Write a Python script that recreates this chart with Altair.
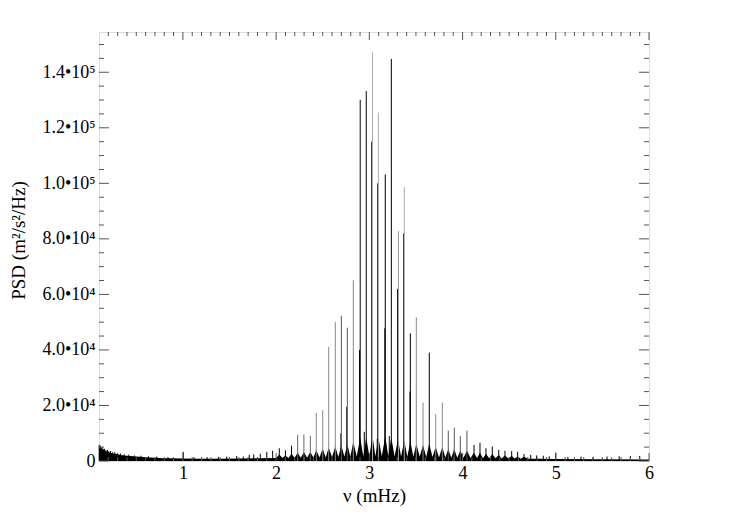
import altair as alt
import pandas as pd

# ---- main p-mode peaks: frequency (mHz), PSD (m^2/s^2/Hz), shade ----
peak_freq = [1.577, 1.648, 1.712, 1.760, 1.830, 1.900, 1.963, 2.034, 2.100, 2.165,
             2.231, 2.298, 2.367, 2.431, 2.500, 2.564, 2.635, 2.700, 2.764, 2.828,
             2.902, 2.967, 3.034, 3.097, 3.171, 3.236, 3.312, 3.375, 3.440, 3.504,
             3.576, 3.643, 3.712, 3.783, 3.847, 3.911, 3.976, 4.047, 4.123, 4.187,
             4.251, 4.319, 4.388, 4.455, 4.527, 4.591, 4.659, 4.731, 4.795, 4.866, 4.930]
peak_psd = [1800, 1600, 2200, 2400, 2600, 3300, 3700, 4600, 3800, 5500,
            9400, 9500, 9000, 17300, 18300, 41100, 50100, 52300, 48000, 65100,
            130100, 133200, 147200, 125500, 103200, 144800, 82800, 98700, 46000, 51700,
            21000, 39000, 16900, 21000, 10900, 12000, 9000, 10900, 5800, 6600,
            4600, 5200, 4000, 3700, 3600, 3300, 2500, 2200, 2000, 1900, 1700]
peak_shade = ["#000", "#000", "#000", "#000", "#000", "#000", "#000", "#000", "#000", "#000",
              "#666", "#666", "#666", "#888", "#888", "#888", "#888", "#555", "#555", "#888",
              "#000", "#000", "#aaa", "#aaa", "#000", "#000", "#999", "#aaa", "#000", "#888",
              "#888", "#000", "#888", "#888", "#555", "#555", "#555", "#555", "#000", "#000",
              "#000", "#000", "#000", "#000", "#000", "#000", "#000", "#000", "#000", "#000", "#000"]

# ---- companion / neighbouring modes (dark lower lines) ----
comp_freq = [2.695, 2.758, 2.895, 2.946, 3.026, 3.085, 3.090, 3.166, 3.214, 3.303, 3.368, 3.436]
comp_psd = [10000, 19500, 40000, 10500, 115000, 8000, 100000, 47800, 9000, 62000, 82000, 25000]

# ---- low-level noise spikes ----
noise_freq = [0.102, 0.108, 0.115, 0.125, 0.135, 0.148, 0.160, 0.175, 0.190, 0.205,
              0.225, 0.245, 0.270, 0.300, 0.330, 0.370, 0.420, 0.480, 0.550, 0.630,
              0.720, 0.840, 1.004, 1.120, 1.260, 1.380, 1.470, 5.000, 5.130, 5.270,
              5.400, 5.550, 5.680, 5.800, 5.900]
noise_psd = [5800, 5000, 5500, 4600, 5000, 4300, 4400, 3900, 4000, 3500,
             3600, 3100, 3200, 2800, 2700, 2400, 2300, 2000, 1900, 1700,
             1600, 1400, 3300, 1300, 1400, 1500, 1600, 3000, 1500, 1600,
             1500, 1600, 1700, 1800, 1800]

# ---- dark envelope (background + line wings) ----
env_freq = [0.10, 0.12, 0.15, 0.18, 0.22, 0.26, 0.30, 0.35, 0.40, 0.50,
            0.60, 0.70, 0.80, 0.90, 1.00, 1.20, 1.40, 1.60, 1.80, 2.00,
            2.034, 2.067, 2.100, 2.133, 2.165, 2.198, 2.231, 2.265, 2.298, 2.332,
            2.367, 2.400, 2.431, 2.465, 2.500, 2.532, 2.564, 2.600, 2.635, 2.667,
            2.700, 2.732, 2.764, 2.796, 2.828, 2.865, 2.902, 2.935, 2.967, 3.000,
            3.034, 3.065, 3.097, 3.134, 3.171, 3.203, 3.236, 3.270, 3.308, 3.340,
            3.375, 3.407, 3.440, 3.472, 3.504, 3.540, 3.576, 3.610, 3.643, 3.677,
            3.712, 3.747, 3.783, 3.815, 3.847, 3.879, 3.911, 3.943, 3.976, 4.010,
            4.047, 4.085, 4.123, 4.155, 4.187, 4.219, 4.251, 4.285, 4.319, 4.353,
            4.388, 4.420, 4.455, 4.490, 4.527, 4.560, 4.591, 4.625, 4.659, 4.700,
            4.800, 5.000, 5.500, 6.000]
env_psd = [4600, 4200, 3800, 3400, 3000, 2700, 2400, 2100, 1900, 1600,
           1350, 1150, 1000, 950, 900, 850, 850, 900, 1000, 1100,
           2300, 1100, 2000, 1100, 2600, 1200, 3000, 1200, 3200, 1200,
           3200, 1300, 4000, 1300, 4400, 1300, 4800, 1400, 5200, 1400,
           5600, 1500, 6000, 1500, 6800, 1600, 8500, 1600, 8500, 1700,
           9000, 1700, 8500, 1700, 9000, 1700, 8500, 1600, 7800, 1600,
           7400, 1500, 7000, 1500, 6200, 1500, 5800, 1400, 6200, 1400,
           5000, 1300, 5000, 1300, 4200, 1200, 4200, 1200, 3700, 1200,
           3700, 1100, 3000, 1100, 3000, 1000, 2600, 1000, 2400, 1000,
           2200, 900, 2000, 900, 1800, 900, 1600, 800, 1500, 800,
           800, 700, 600, 550]

# ---- axis ticks ----
x_major = [1, 2, 3, 4, 5, 6]
x_minor = [round(0.1 * i, 1) for i in range(2, 60) if i % 10 != 0]
y_major = [0, 20000, 40000, 60000, 80000, 100000, 120000, 140000]
y_minor = [5000 * i for i in range(1, 31) if i % 4 != 0]

W, H = 550, 429
FONT = "Liberation Serif"
TICK = "#555"

xs = alt.Scale(domain=[0.1, 6.0], nice=False, zero=False)
ys = alt.Scale(domain=[0, 154500], nice=False, zero=False)

y_label_expr = ("datum.value == 0 ? '0' : (datum.value < 100000 ? "
                "format(datum.value / 10000, '.1f') + '•10⁴' : "
                "format(datum.value / 100000, '.1f') + '•10⁵')")

X_AX = alt.Axis(
    values=x_major, format="d", ticks=False, tickSize=0, domain=False, grid=False,
    labelFont=FONT, labelFontSize=18, labelColor="black", labelPadding=3,
    labelFlush=False, labelOverlap=False,
    title="ν (mHz)", titleFont=FONT, titleFontSize=19, titleFontWeight="normal",
    titleColor="black", titleY=34, titleBaseline="middle")
Y_AX = alt.Axis(
    values=y_major, labelExpr=y_label_expr, ticks=False, tickSize=0, domain=False,
    grid=False, labelFont=FONT, labelFontSize=18, labelColor="black", labelPadding=4,
    labelFlush=False, labelOverlap=False,
    title="PSD (m²/s²/Hz)", titleFont=FONT, titleFontSize=19, titleFontWeight="normal",
    titleColor="black", titleX=-81, titleY=208, titleBaseline="middle")


def xq(field):
    return alt.X(field, type="quantitative", scale=xs, axis=X_AX)


def yq(field):
    return alt.Y(field, type="quantitative", scale=ys, axis=Y_AX)


env_df = pd.DataFrame({"f": env_freq, "p": env_psd})
peaks_df = pd.DataFrame({"f": peak_freq, "p": peak_psd, "c": peak_shade, "z": 0})
comp_df = pd.DataFrame({"f": comp_freq, "p": comp_psd, "z": 0})
noise_df = pd.DataFrame({"f": noise_freq, "p": noise_psd, "z": 0})

env = alt.Chart(env_df).mark_area(color="black", interpolate="linear").encode(
    x=xq("f"), y=yq("p"))

noise = alt.Chart(noise_df).mark_rule(color="black", strokeWidth=1).encode(
    x=xq("f"), y=yq("p"), y2=alt.Y2("z:Q"))

comp = alt.Chart(comp_df).mark_rule(color="black", strokeWidth=1).encode(
    x=xq("f"), y=yq("p"), y2=alt.Y2("z:Q"))

peaks = alt.Chart(peaks_df).mark_rule(strokeWidth=1).encode(
    x=xq("f"), y=yq("p"), y2=alt.Y2("z:Q"),
    color=alt.Color("c:N", scale=None))


def yticks(vals, x0, x1):
    return alt.Chart(pd.DataFrame({"f": vals})).mark_rule(color=TICK, strokeWidth=1).encode(
        y=yq("f"), x=alt.value(x0), x2=alt.value(x1))


def xticks(vals, y0, y1):
    return alt.Chart(pd.DataFrame({"f": vals})).mark_rule(color=TICK, strokeWidth=1).encode(
        x=xq("f"), y=alt.value(y0), y2=alt.value(y1))


ticks = [
    yticks(y_major, 0, 10), yticks(y_minor, 0, 5),
    yticks(y_major, W, W - 10), yticks(y_minor, W, W - 5),
    xticks(x_major, 0, 8), xticks(x_minor, 0, 4),
    xticks(x_major, H, H - 8), xticks(x_minor, H, H - 4),
]

chart = alt.layer(env, noise, comp, peaks, *ticks).properties(
    width=W, height=H,
    autosize=alt.AutoSizeParams(type="none"),
    padding={"left": 91, "top": 24, "right": 90, "bottom": 55},
).configure_view(stroke="#999", strokeWidth=1).configure(background="white")

chart.save("out.html", embed_options={"renderer": "svg", "actions": False})
